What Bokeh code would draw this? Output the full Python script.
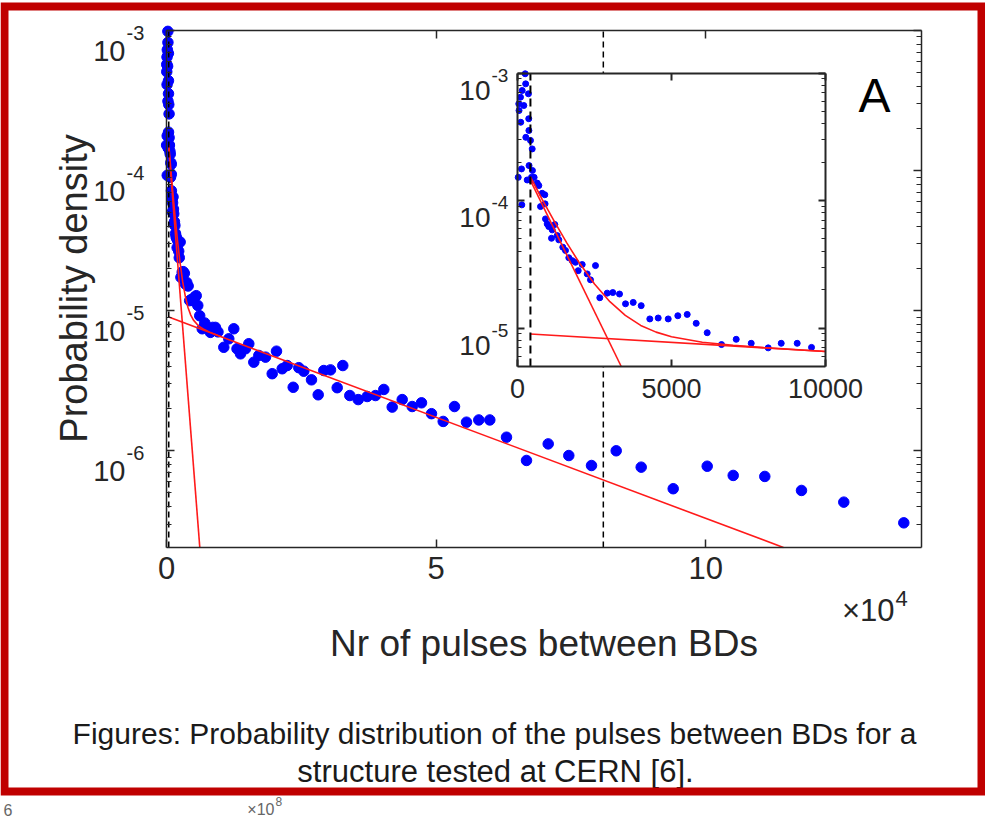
import math
from bokeh.plotting import figure
from bokeh.models import (Range1d, LinearScale, LogScale, LinearAxis, LogAxis,
                          FixedTicker, CustomJSTickFormatter)
from bokeh.core.properties import value
from bokeh.embed import file_html
from bokeh.resources import INLINE

# ------------------------------------------------------------------ data
# histogram of the number of pulses between BDs: bin position and probability density
pulses = [23, 42, 50, 97, 105, 130, 140, 153, 205, 250, 265, 270, 315, 355, 365, 370, 375,
          422, 430, 455, 477, 485, 540, 640, 692, 747, 802, 886, 895, 909, 964, 1016, 1104,
          1127, 1211, 1289, 1341, 1471, 1558, 1666, 1776, 1883, 1971, 2101, 2263, 2370, 2532,
          2672, 2912, 3094, 3312, 3507, 3757, 4016, 4296, 4568, 4893, 5205, 5510, 5802, 6159,
          6624, 7101, 7588, 8140, 8562, 9081, 9546,
          10625, 11552, 12480, 13073, 13722, 14649, 15261, 16188, 17115, 18358, 19600, 20397,
          21454, 22381, 23494, 24532, 25460, 26887, 28130, 29168, 30410, 31653, 32691, 33989,
          35547, 37216, 38754, 40294, 41852, 43706, 45560, 47285, 49139, 51309, 53404, 55629,
          57910, 59950, 63046, 66755, 70779, 74599, 78808, 83389, 88024, 93958, 100263, 105084,
          110944, 117748, 125592, 136718]
density = [1.52e-4, 5.73e-4, 5.08e-4, 6.46e-4, 4.11e-4, 1.77e-4, 9.25e-5, 7.29e-4, 5.56e-4,
           9.86e-4, 8.22e-4, 3.13e-4, 1.45e-4, 6.87e-4, 4.38e-4, 3.54e-4, 1.88e-4,
           2.96e-4, 1.44e-4, 1.52e-4, 2.54e-4, 1.72e-4, 1.52e-4, 1.37e-4, 1.31e-4, 8.97e-5,
           1.14e-4, 1.11e-4, 9.42e-5, 7.18e-5, 6.56e-5, 6.25e-5, 5.06e-5,
           5.89e-5, 6.49e-5, 5.31e-5, 4.92e-5, 4.31e-5, 4.06e-5, 3.56e-5, 3.38e-5, 3.28e-5,
           2.82e-5, 3.15e-5, 2.66e-5, 2.39e-5, 3.09e-5,
           1.73e-5, 1.88e-5, 1.90e-5, 1.85e-5, 1.55e-5, 1.59e-5, 1.50e-5, 1.18e-5, 1.20e-5,
           1.18e-5, 1.25e-5, 1.28e-5, 1.09e-5, 9.2e-6,
           7.43e-6, 8.17e-6, 7.60e-6, 7.00e-6, 7.60e-6, 7.60e-6, 7.06e-6,
           5.48e-6, 6.30e-6, 7.43e-6, 5.35e-6, 4.92e-6, 5.35e-6, 5.81e-6, 4.29e-6, 4.79e-6,
           4.66e-6, 3.55e-6, 5.14e-6,
           3.85e-6, 4.06e-6, 2.84e-6, 3.92e-6, 3.70e-6, 3.21e-6, 2.51e-6, 3.74e-6, 3.78e-6,
           2.82e-6, 4.06e-6, 2.48e-6,
           2.32e-6, 2.44e-6, 2.48e-6, 2.74e-6, 2.05e-6, 2.32e-6, 2.07e-6, 2.20e-6, 1.84e-6,
           1.62e-6, 2.07e-6, 1.60e-6,
           1.66e-6, 1.66e-6, 1.25e-6, 8.53e-7, 1.12e-6, 9.25e-7, 7.85e-7, 1.00e-6, 7.64e-7,
           5.36e-7, 7.76e-7, 6.67e-7,
           6.56e-7, 5.21e-7, 4.30e-7, 3.06e-7]

# fitted exponentials
steep_x = [420, 6175]
steep_y = [1.44e-4, 2.04e-7]
shallow_x = [420, 115000]
shallow_y = [9.0e-6, 2.0e-7]
fit_x = [420, 800, 1200, 1600, 2000, 2500, 3000, 3500, 4000, 4500, 5000, 6000, 7000, 8000, 10000]
fit_y = [1.53e-4, 1.02e-4, 6.84e-5, 4.66e-5, 3.27e-5, 2.22e-5, 1.61e-5, 1.26e-5, 1.05e-5,
         9.3e-6, 8.56e-6, 7.75e-6, 7.33e-6, 7.03e-6, 6.55e-6]
cut_lines = [420, 81000]

main_xlim = (0, 140000)
main_ylim = (2.04e-7, 1e-3)
inset_xlim = (0, 10000)
inset_ylim = (5e-6, 1e-3)
main_xticks = [0, 50000, 100000]
main_xlabels = ["0", "5", "10"]
main_yticks = [1e-6, 1e-5, 1e-4, 1e-3]
main_yexp = ["-6", "-5", "-4", "-3"]
inset_xticks = [0, 5000, 10000]
inset_xlabels = ["0", "5000", "10000"]
inset_yticks = [1e-5, 1e-4, 1e-3]
inset_yexp = ["-5", "-4", "-3"]

# ------------------------------------------------------------------ layout / style
W, H = 985, 820
MAIN_BOX = (166, 921, 30, 547)      # left, right, top, bottom (canvas px)
INSET_BOX = (517, 825, 72.5, 366)
FONT = "Liberation Sans"
INK = "#262626"
BLUE = "#0000ff"
RED = "#ff1a1a"
FRAME_RED = "#c00000"


def x_range_for(lim, box):
    d0, d1 = lim
    p0, p1 = box[0], box[1]
    k = (d1 - d0) / (p1 - p0)
    return Range1d(start=d0 - p0 * k, end=d0 + (W - p0) * k)


def ylog_range_for(lim, box):
    lb, lt = math.log10(lim[0]), math.log10(lim[1])
    ptop, pbot = box[2], box[3]
    k = (lt - lb) / (pbot - ptop)
    return Range1d(start=10 ** (lb - (H - pbot) * k), end=10 ** (lt + ptop * k))


def minor_log(lo, hi):
    out = []
    for e in range(int(math.floor(math.log10(lo))) - 1, int(math.ceil(math.log10(hi))) + 1):
        for m in range(2, 10):
            v = m * 10.0 ** e
            if lo <= v <= hi:
                out.append(v)
    return out


def clip_line(xs, ys, xlim, ylim):
    lmin, lmax = math.log10(ylim[0]), math.log10(ylim[1])
    L = [math.log10(v) for v in ys]
    ox, oy = [], []
    for i in range(len(xs) - 1):
        xa, la, xb, lb = xs[i], L[i], xs[i + 1], L[i + 1]
        dx, dl = xb - xa, lb - la
        t0, t1, ok = 0.0, 1.0, True
        for pp, q in ((-dx, xa - xlim[0]), (dx, xlim[1] - xa), (-dl, la - lmin), (dl, lmax - la)):
            if pp == 0:
                if q < 0:
                    ok = False
                    break
            else:
                r = q / pp
                if pp < 0:
                    t0 = max(t0, r)
                else:
                    t1 = min(t1, r)
        if not ok or t0 > t1:
            continue
        a = (xa + t0 * dx, 10 ** (la + t0 * dl))
        b = (xa + t1 * dx, 10 ** (la + t1 * dl))
        if not ox or abs(ox[-1] - a[0]) > 1e-9:
            ox.append(a[0]); oy.append(a[1])
        ox.append(b[0]); oy.append(b[1])
    return ox, oy


p = figure(width=W, height=H, x_range=x_range_for(main_xlim, MAIN_BOX),
           y_range=ylog_range_for(main_ylim, MAIN_BOX), y_axis_type="log",
           x_axis_location=None, y_axis_location=None, toolbar_location=None,
           output_backend="svg", min_border=0, outline_line_color=None,
           background_fill_color="white", border_fill_color="white")
p.title_location = None
p.center = []          # no grids
p.extra_x_ranges = {"ix": x_range_for(inset_xlim, INSET_BOX), "cx": Range1d(0, W)}
p.extra_y_ranges = {"iy": ylog_range_for(inset_ylim, INSET_BOX), "cy": Range1d(H, 0)}
p.extra_x_scales = {"ix": LinearScale(), "cx": LinearScale()}
p.extra_y_scales = {"iy": LogScale(), "cy": LinearScale()}

# ------------------------------------------------------------------ main plot
p.scatter(pulses, density, size=10.5, color=BLUE)
for xs, ys in ((steep_x, steep_y), (shallow_x, shallow_y), (fit_x, fit_y)):
    cxs, cys = clip_line(xs, ys, main_xlim, main_ylim)
    p.line(cxs, cys, color=RED, line_width=1.6)
for c in cut_lines:
    p.line([c, c], list(main_ylim), color="black", line_width=1.5, line_dash="6 4")

# ------------------------------------------------------------------ inset
IN = dict(x_range_name="ix", y_range_name="iy")
p.quad(left=[inset_xlim[0]], right=[inset_xlim[1]], bottom=[inset_ylim[0]], top=[inset_ylim[1]],
       fill_color="white", line_color=None, **IN)
ix = [x for x, y in zip(pulses, density) if inset_xlim[0] <= x <= inset_xlim[1] and y >= inset_ylim[0]]
iy = [y for x, y in zip(pulses, density) if inset_xlim[0] <= x <= inset_xlim[1] and y >= inset_ylim[0]]
p.scatter(ix, iy, size=6, color=BLUE, **IN)
for xs, ys in ((steep_x, steep_y), (shallow_x, shallow_y), (fit_x, fit_y)):
    cxs, cys = clip_line(xs, ys, inset_xlim, inset_ylim)
    p.line(cxs, cys, color=RED, line_width=1.6, **IN)
for c in cut_lines:
    if inset_xlim[0] <= c <= inset_xlim[1]:
        p.line([c, c], list(inset_ylim), color="black", line_width=2, line_dash="8 5", **IN)


# ------------------------------------------------------------------ axes (fixed at the box edges)
def add_axis(side, cls, xname, yname, loc, bounds, ticks, minor, lw, major_len, minor_len,
             labels=None, font_size="30px", standoff=10):
    ax = cls(x_range_name=xname, y_range_name=yname, fixed_location=loc, bounds=bounds,
             ticker=FixedTicker(ticks=ticks, minor_ticks=minor))
    ax.axis_line_color = INK
    ax.axis_line_width = lw
    ax.major_tick_line_color = INK
    ax.major_tick_line_width = lw
    ax.major_tick_in = major_len
    ax.major_tick_out = 0
    ax.minor_tick_line_color = INK
    ax.minor_tick_line_width = 1
    ax.minor_tick_in = minor_len
    ax.minor_tick_out = 0
    if labels:
        ax.major_label_overrides = {t: s for t, s in zip(ticks, labels)}
        ax.major_label_text_font = FONT
        ax.major_label_text_font_size = font_size
        ax.major_label_text_color = INK
        ax.major_label_standoff = standoff
    else:
        ax.formatter = CustomJSTickFormatter(code="return ''")
        ax.major_label_standoff = 0
        ax.major_label_text_font_size = "8px"
    p.add_layout(ax, side)
    return ax


main_minor = minor_log(*main_ylim)
add_axis("below", LinearAxis, "default", "default", main_ylim[0], main_xlim, main_xticks, [],
         1.5, 8, 0, labels=main_xlabels, font_size="31px", standoff=9)
add_axis("above", LinearAxis, "default", "default", main_ylim[1], main_xlim, main_xticks, [],
         1.5, 8, 0)
add_axis("left", LogAxis, "default", "default", main_xlim[0], main_ylim, main_yticks, main_minor,
         1.5, 8, 5)
add_axis("right", LogAxis, "default", "default", main_xlim[1], main_ylim, main_yticks, main_minor,
         1.5, 8, 5)

inset_minor = minor_log(*inset_ylim)
add_axis("below", LinearAxis, "ix", "iy", inset_ylim[0], inset_xlim, inset_xticks, [],
         2, 7, 0, labels=inset_xlabels, font_size="27px", standoff=12)
add_axis("above", LinearAxis, "ix", "iy", inset_ylim[1], inset_xlim, inset_xticks, [],
         2, 7, 0)
add_axis("left", LogAxis, "ix", "iy", inset_xlim[0], inset_ylim, inset_yticks, inset_minor,
         2, 7, 4)
add_axis("right", LogAxis, "ix", "iy", inset_xlim[1], inset_ylim, inset_yticks, inset_minor,
         2, 7, 4)


# ------------------------------------------------------------------ texts
def text(xs, ys, texts, size, align="left", baseline="alphabetic", color=INK, angle=0.0,
         xname="cx", yname="cy", dx=0, dy=0):
    p.text(x=xs, y=ys, text=texts, x_range_name=xname, y_range_name=yname,
           text_font=value(FONT), text_font_size=size, text_align=align,
           text_baseline=baseline, text_color=color, angle=angle, x_offset=dx, y_offset=dy)


# log tick labels 10^n (base + superscript), anchored on the ticks through the scales
text([main_xlim[0]] * len(main_yticks), main_yticks, ["10"] * len(main_yticks), "29px",
     align="right", xname="default", yname="default", dx=-41, dy=20)
text([main_xlim[0]] * len(main_yticks), main_yticks, main_yexp, "20px",
     align="left", xname="default", yname="default", dx=-40, dy=2)
text([inset_xlim[0]] * len(inset_yticks), inset_yticks, ["10"] * len(inset_yticks), "28px",
     align="right", xname="ix", yname="iy", dx=-27, dy=17)
text([inset_xlim[0]] * len(inset_yticks), inset_yticks, inset_yexp, "19px",
     align="left", xname="ix", yname="iy", dx=-26, dy=2)

# axis titles and annotations
text([73], [288], ["Probability density"], "38px", align="center", angle=math.pi / 2)
text([543.5], [643], ["Nr of pulses between BDs"], "37px", align="center")
text([894], [610], ["\u00d710"], "31px", align="right")
text([895], [598], ["4"], "22px", align="left")
text([874], [95], ["A"], "48px", align="center", color="black")

# caption
text([494], [733], ["Figures: Probability distribution of the pulses between BDs for a"], "30px",
     align="center", color="#1a1a1a")
text([495], [771], ["structure tested at CERN [6]."], "31px", align="center", color="#1a1a1a")

# remnants of a neighbouring figure below the frame
text([274], [809], ["\u00d710"], "16px", align="right", color="#666666")
text([275], [801], ["8"], "12px", align="left", color="#666666")
text([3], [809], ["6"], "16px", align="left", color="#666666")

# red frame
p.quad(left=[4], right=[W - 4], top=[6], bottom=[791], fill_color=None,
       line_color=FRAME_RED, line_width=8, line_join="miter", x_range_name="cx", y_range_name="cy")

open("out.html", "w").write(file_html(p, INLINE))
